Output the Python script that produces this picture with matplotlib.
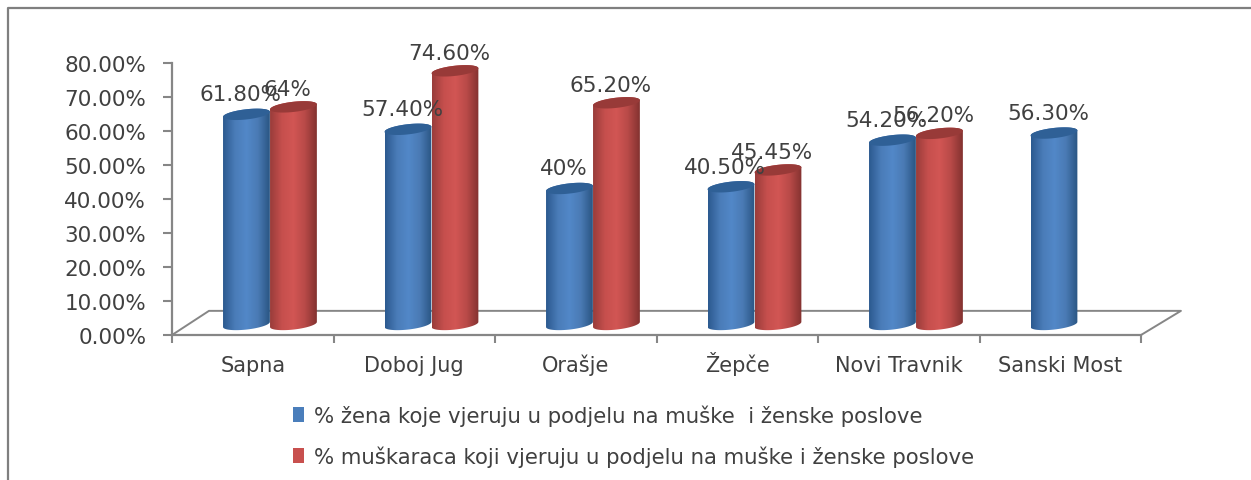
import numpy as np
import matplotlib
matplotlib.use('Agg')
import matplotlib.pyplot as plt
from matplotlib.colors import LinearSegmentedColormap
from matplotlib.patches import Polygon, Patch
from matplotlib.lines import Line2D

categories = ['Sapna', 'Doboj Jug', 'Orašje', 'Žepče', 'Novi Travnik', 'Sanski Most']
zene = [61.8, 57.4, 40.0, 40.5, 54.2, 56.3]
muskarci = [64.0, 74.6, 65.2, 45.45, 56.2, None]
zene_labels = ['61.80%', '57.40%', '40%', '40.50%', '54.20%', '56.30%']
muskarci_labels = ['64%', '74.60%', '65.20%', '45.45%', '56.20%', None]
yticks = [0, 10, 20, 30, 40, 50, 60, 70, 80]
legend_labels = ['% žena koje vjeruju u podjelu na muške  i ženske poslove',
                 '% muškaraca koji vjeruju u podjelu na muške i ženske poslove']

W, H = 1251, 481
GRAY = '#868686'
TXT = '#404040'

fig = plt.figure(figsize=(W/100, H/100), dpi=100, facecolor='white')
ax = fig.add_axes([172/W, 1-336/H, (1141-172)/W, (336-64)/H])

blue_map = LinearSegmentedColormap.from_list('b', ['#2c5a90', '#4a7cb8', '#5288c8', '#4a7ab4', '#2a5684'])
red_map = LinearSegmentedColormap.from_list('r', ['#9a3d3b', '#c64f4d', '#d25654', '#b84a48', '#843230'])
grad = np.linspace(0, 1, 64).reshape(1, -1)

# floor of the 3d box
dx, dy = 0.229, 7.1
ax.plot([0, dx, 6+dx*1.08, 6], [0, dy, dy, 0], color=GRAY, lw=1.4, clip_on=False, zorder=1)

bw = 0.29      # bar width
lift = 3.1     # bars stand back from the front edge
tilt = 0.75
cap = 1.5
t = np.linspace(0, 2*np.pi, 80)


def bar3d(xc, val, cmap, capcolor, z):
    a = bw/2
    top = val + lift
    tb = np.linspace(np.pi, 2*np.pi, 40)
    tt = np.linspace(0, np.pi, 40)
    bx = xc + a*np.cos(tb)
    by = lift + cap*np.sin(tb) + tilt*np.cos(tb)
    ux = xc + a*np.cos(tt)
    uy = top + cap*np.sin(tt) + tilt*np.cos(tt)
    body = Polygon(np.column_stack([np.r_[bx, ux], np.r_[by, uy]]), fc='none', ec='none', zorder=z)
    ax.add_patch(body)
    im = ax.imshow(grad, cmap=cmap, aspect='auto', extent=[xc-a, xc+a, 0, 100], zorder=z)
    im.set_clip_path(body)
    ax.add_patch(Polygon(np.column_stack([xc + a*np.cos(t),
                                          top + cap*np.sin(t) + tilt*np.cos(t)]),
                         fc=capcolor, ec='none', zorder=z+0.1))


for i in range(len(categories)):
    bar3d(i+0.461, zene[i], blue_map, '#2f6096', 2+i*0.01)
    ax.annotate(zene_labels[i], (i+0.461, zene[i]+lift), xytext=(-6, 20), textcoords='offset pixels',
                ha='center', va='center', fontsize=15.5, color=TXT, zorder=10)
    if muskarci[i] is not None:
        bar3d(i+0.752, muskarci[i], red_map, '#983a38', 3+i*0.01)
        ax.annotate(muskarci_labels[i], (i+0.752, muskarci[i]+lift), xytext=(-6, 18), textcoords='offset pixels',
                    ha='center', va='center', fontsize=15.5, color=TXT, zorder=10)

ax.set_xlim(0, 6)
ax.set_ylim(0, 80)
ax.set_yticks(yticks)
ax.set_yticklabels(['%.2f%%' % v for v in yticks], fontsize=15.5, color=TXT)
ax.set_xticks(range(7))
ax.set_xticklabels([])
ax.set_xticks(np.arange(6)+0.5, categories, minor=True, fontsize=15, color=TXT)
ax.tick_params(axis='x', which='minor', length=0, pad=26)
ax.tick_params(axis='x', which='major', length=5.5, width=1.5, color=GRAY)
ax.tick_params(axis='y', length=6.5, width=1.5, color=GRAY, pad=12)
for lab in ax.get_xticklabels(minor=True):
    lab.set_va('baseline')
for s in ['top', 'right']:
    ax.spines[s].set_visible(False)
for s in ['left', 'bottom']:
    ax.spines[s].set_color(GRAY)
    ax.spines[s].set_linewidth(1.6)
ax.patch.set_alpha(0)

handles = [Patch(fc='#4a7ebb', ec='none'), Patch(fc='#c8504e', ec='none')]
fig.legend(handles, legend_labels, loc='upper left', bbox_to_anchor=(284/W, 1-397/H),
           frameon=False, ncol=1, handlelength=0.53, handleheight=0.73, handletextpad=0.48,
           labelspacing=0.92, borderpad=0.4, borderaxespad=0,
           prop={'size': 15.3}, labelcolor=TXT)

# outer frame of the picture
fig.add_artist(Line2D([8/W, 8/W, 1], [0, 1-9/H, 1-9/H], color='#7f7f7f', lw=1.6))

fig.savefig('out.png', dpi=100)
